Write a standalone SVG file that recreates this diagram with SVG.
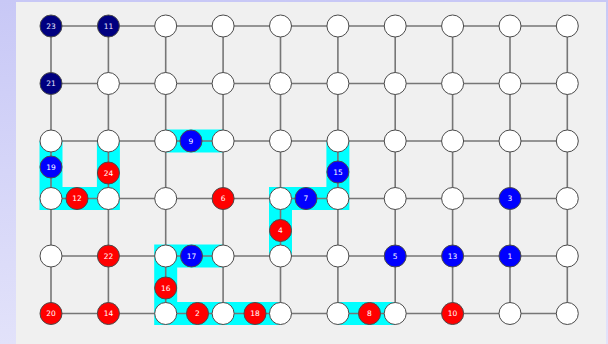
<svg xmlns="http://www.w3.org/2000/svg" width="608" height="344" viewBox="0 0 608 344">
  <defs>
    <linearGradient id="bg" x1="0" y1="0" x2="0" y2="1">
      <stop offset="0" stop-color="#c8c8f6"/>
      <stop offset="1" stop-color="#e2e2fa"/>
    </linearGradient>
    <style>
      .grid line { stroke: #767676; stroke-width: 1.6; }
      .hl { fill: none; stroke: #00ffff; stroke-width: 23; stroke-linejoin: miter; stroke-linecap: butt; }
      .n circle { stroke: #4a4a4a; stroke-width: 1; }
      .w circle { fill: #ffffff; }
      .r circle { fill: #ff0000; }
      .b circle { fill: #0000ff; }
      .d circle { fill: #000080; }
      .n text { fill: #ffffff; font-family: "DejaVu Sans", Verdana, sans-serif; font-size: 7.5px; text-anchor: middle; dominant-baseline: central; }
      .d text { fill: #e8e8ff; }
    </style>
  </defs>

  <!-- backdrop and panel -->
  <rect x="0" y="0" width="608" height="344" fill="url(#bg)"/>
  <rect x="16" y="2" width="590" height="342" fill="#f0f0f0"/>

  <!-- highlighted routes -->
  <g id="routes">
    <path class="hl" d="M51,141 V198.5 H108.4 V141"/>
    <path class="hl" d="M165.7,141 H223.1"/>
    <path class="hl" d="M337.9,141 V198.5 H280.5 V256"/>
    <path class="hl" d="M223.1,256 H165.7 V313.5 H280.5"/>
    <path class="hl" d="M337.9,313.5 H395.2"/>
  </g>

  <!-- connectors -->
  <g id="connectors" class="grid">
    <!-- horizontal -->
    <line x1="51" y1="26" x2="567.3" y2="26"/>
    <line x1="51" y1="83.5" x2="567.3" y2="83.5"/>
    <line x1="51" y1="141" x2="567.3" y2="141"/>
    <line x1="51" y1="198.5" x2="567.3" y2="198.5"/>
    <line x1="51" y1="256" x2="567.3" y2="256"/>
    <line x1="51" y1="313.5" x2="567.3" y2="313.5"/>
    <!-- vertical -->
    <line x1="51" y1="26" x2="51" y2="313.5"/>
    <line x1="108.4" y1="26" x2="108.4" y2="313.5"/>
    <line x1="165.7" y1="26" x2="165.7" y2="313.5"/>
    <line x1="223.1" y1="26" x2="223.1" y2="313.5"/>
    <line x1="280.5" y1="26" x2="280.5" y2="313.5"/>
    <line x1="337.9" y1="26" x2="337.9" y2="313.5"/>
    <line x1="395.2" y1="26" x2="395.2" y2="313.5"/>
    <line x1="452.6" y1="26" x2="452.6" y2="313.5"/>
    <line x1="510" y1="26" x2="510" y2="313.5"/>
    <line x1="567.3" y1="26" x2="567.3" y2="313.5"/>
  </g>

  <!-- row 0 -->
  <g id="n23" class="n d"><circle cx="51" cy="26" r="11"/><text x="51" y="26">23</text></g>
  <g id="n11" class="n d"><circle cx="108.4" cy="26" r="11"/><text x="108.4" y="26">11</text></g>
  <g id="g0_2" class="n w"><circle cx="165.7" cy="26" r="11"/></g>
  <g id="g0_3" class="n w"><circle cx="223.1" cy="26" r="11"/></g>
  <g id="g0_4" class="n w"><circle cx="280.5" cy="26" r="11"/></g>
  <g id="g0_5" class="n w"><circle cx="337.9" cy="26" r="11"/></g>
  <g id="g0_6" class="n w"><circle cx="395.2" cy="26" r="11"/></g>
  <g id="g0_7" class="n w"><circle cx="452.6" cy="26" r="11"/></g>
  <g id="g0_8" class="n w"><circle cx="510" cy="26" r="11"/></g>
  <g id="g0_9" class="n w"><circle cx="567.3" cy="26" r="11"/></g>

  <!-- row 1 -->
  <g id="n21" class="n d"><circle cx="51" cy="83.5" r="11"/><text x="51" y="83.5">21</text></g>
  <g id="g1_1" class="n w"><circle cx="108.4" cy="83.5" r="11"/></g>
  <g id="g1_2" class="n w"><circle cx="165.7" cy="83.5" r="11"/></g>
  <g id="g1_3" class="n w"><circle cx="223.1" cy="83.5" r="11"/></g>
  <g id="g1_4" class="n w"><circle cx="280.5" cy="83.5" r="11"/></g>
  <g id="g1_5" class="n w"><circle cx="337.9" cy="83.5" r="11"/></g>
  <g id="g1_6" class="n w"><circle cx="395.2" cy="83.5" r="11"/></g>
  <g id="g1_7" class="n w"><circle cx="452.6" cy="83.5" r="11"/></g>
  <g id="g1_8" class="n w"><circle cx="510" cy="83.5" r="11"/></g>
  <g id="g1_9" class="n w"><circle cx="567.3" cy="83.5" r="11"/></g>

  <!-- row 2 -->
  <g id="g2_0" class="n w"><circle cx="51" cy="141" r="11"/></g>
  <g id="g2_1" class="n w"><circle cx="108.4" cy="141" r="11"/></g>
  <g id="g2_2" class="n w"><circle cx="165.7" cy="141" r="11"/></g>
  <g id="g2_3" class="n w"><circle cx="223.1" cy="141" r="11"/></g>
  <g id="g2_4" class="n w"><circle cx="280.5" cy="141" r="11"/></g>
  <g id="g2_5" class="n w"><circle cx="337.9" cy="141" r="11"/></g>
  <g id="g2_6" class="n w"><circle cx="395.2" cy="141" r="11"/></g>
  <g id="g2_7" class="n w"><circle cx="452.6" cy="141" r="11"/></g>
  <g id="g2_8" class="n w"><circle cx="510" cy="141" r="11"/></g>
  <g id="g2_9" class="n w"><circle cx="567.3" cy="141" r="11"/></g>

  <!-- row 3 -->
  <g id="g3_0" class="n w"><circle cx="51" cy="198.5" r="11"/></g>
  <g id="g3_1" class="n w"><circle cx="108.4" cy="198.5" r="11"/></g>
  <g id="g3_2" class="n w"><circle cx="165.7" cy="198.5" r="11"/></g>
  <g id="n6" class="n r"><circle cx="223.1" cy="198.5" r="11"/><text x="223.1" y="198.5">6</text></g>
  <g id="g3_4" class="n w"><circle cx="280.5" cy="198.5" r="11"/></g>
  <g id="g3_5" class="n w"><circle cx="337.9" cy="198.5" r="11"/></g>
  <g id="g3_6" class="n w"><circle cx="395.2" cy="198.5" r="11"/></g>
  <g id="g3_7" class="n w"><circle cx="452.6" cy="198.5" r="11"/></g>
  <g id="n3" class="n b"><circle cx="510" cy="198.5" r="11"/><text x="510" y="198.5">3</text></g>
  <g id="g3_9" class="n w"><circle cx="567.3" cy="198.5" r="11"/></g>

  <!-- row 4 -->
  <g id="g4_0" class="n w"><circle cx="51" cy="256" r="11"/></g>
  <g id="n22" class="n r"><circle cx="108.4" cy="256" r="11"/><text x="108.4" y="256">22</text></g>
  <g id="g4_2" class="n w"><circle cx="165.7" cy="256" r="11"/></g>
  <g id="g4_3" class="n w"><circle cx="223.1" cy="256" r="11"/></g>
  <g id="g4_4" class="n w"><circle cx="280.5" cy="256" r="11"/></g>
  <g id="g4_5" class="n w"><circle cx="337.9" cy="256" r="11"/></g>
  <g id="n5" class="n b"><circle cx="395.2" cy="256" r="11"/><text x="395.2" y="256">5</text></g>
  <g id="n13" class="n b"><circle cx="452.6" cy="256" r="11"/><text x="452.6" y="256">13</text></g>
  <g id="n1" class="n b"><circle cx="510" cy="256" r="11"/><text x="510" y="256">1</text></g>
  <g id="g4_9" class="n w"><circle cx="567.3" cy="256" r="11"/></g>

  <!-- row 5 -->
  <g id="n20" class="n r"><circle cx="51" cy="313.5" r="11"/><text x="51" y="313.5">20</text></g>
  <g id="n14" class="n r"><circle cx="108.4" cy="313.5" r="11"/><text x="108.4" y="313.5">14</text></g>
  <g id="g5_2" class="n w"><circle cx="165.7" cy="313.5" r="11"/></g>
  <g id="g5_3" class="n w"><circle cx="223.1" cy="313.5" r="11"/></g>
  <g id="g5_4" class="n w"><circle cx="280.5" cy="313.5" r="11"/></g>
  <g id="g5_5" class="n w"><circle cx="337.9" cy="313.5" r="11"/></g>
  <g id="g5_6" class="n w"><circle cx="395.2" cy="313.5" r="11"/></g>
  <g id="n10" class="n r"><circle cx="452.6" cy="313.5" r="11"/><text x="452.6" y="313.5">10</text></g>
  <g id="g5_8" class="n w"><circle cx="510" cy="313.5" r="11"/></g>
  <g id="g5_9" class="n w"><circle cx="567.3" cy="313.5" r="11"/></g>

  <!-- nodes sitting on edges -->
  <g id="n19" class="n b"><circle cx="51" cy="167" r="11"/><text x="51" y="167">19</text></g>
  <g id="n24" class="n r"><circle cx="108.4" cy="173" r="11"/><text x="108.4" y="173">24</text></g>
  <g id="n9" class="n b"><circle cx="191" cy="141" r="11"/><text x="191" y="141">9</text></g>
  <g id="n12" class="n r"><circle cx="77" cy="198.5" r="11"/><text x="77" y="198.5">12</text></g>
  <g id="n15" class="n b"><circle cx="337.9" cy="172" r="11"/><text x="337.9" y="172">15</text></g>
  <g id="n7" class="n b"><circle cx="306" cy="198.5" r="11"/><text x="306" y="198.5">7</text></g>
  <g id="n4" class="n r"><circle cx="280.5" cy="230.5" r="11"/><text x="280.5" y="230.5">4</text></g>
  <g id="n17" class="n b"><circle cx="191.5" cy="256" r="11"/><text x="191.5" y="256">17</text></g>
  <g id="n16" class="n r"><circle cx="165.7" cy="288" r="11"/><text x="165.7" y="288">16</text></g>
  <g id="n2" class="n r"><circle cx="197.5" cy="313.5" r="11"/><text x="197.5" y="313.5">2</text></g>
  <g id="n18" class="n r"><circle cx="255" cy="313.5" r="11"/><text x="255" y="313.5">18</text></g>
  <g id="n8" class="n r"><circle cx="369.5" cy="313.5" r="11"/><text x="369.5" y="313.5">8</text></g>
</svg>
